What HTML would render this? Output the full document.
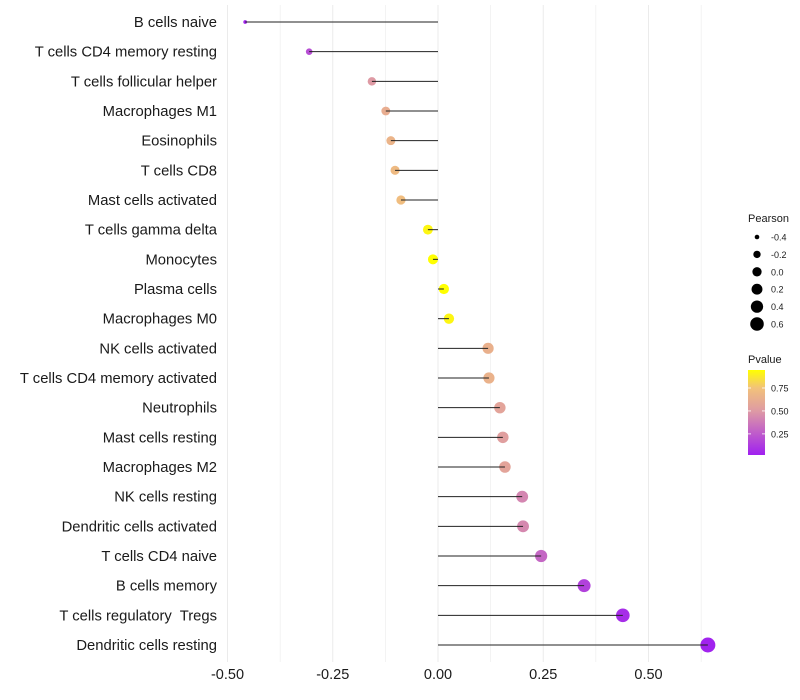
<!DOCTYPE html>
<html><head><meta charset="utf-8">
<style>
body{margin:0;background:#fff;font-family:"Liberation Sans",sans-serif;}
svg{display:block}
</style></head><body>
<svg id="chart" width="800" height="700"></svg>
<script>
const categories=["B cells naive","T cells CD4 memory resting","T cells follicular helper","Macrophages M1","Eosinophils","T cells CD8","Mast cells activated","T cells gamma delta","Monocytes","Plasma cells","Macrophages M0","NK cells activated","T cells CD4 memory activated","Neutrophils","Mast cells resting","Macrophages M2","NK cells resting","Dendritic cells activated","T cells CD4 naive","B cells memory","T cells regulatory\u00a0 Tregs","Dendritic cells resting"];
const pearson=[-0.458,-0.306,-0.157,-0.124,-0.112,-0.102,-0.088,-0.024,-0.012,0.014,0.026,0.119,0.121,0.147,0.154,0.159,0.200,0.202,0.245,0.347,0.439,0.641];
const pvalue=[0.03,0.2,0.5,0.62,0.66,0.7,0.72,0.92,0.95,0.95,0.92,0.64,0.65,0.56,0.53,0.56,0.42,0.43,0.3,0.15,0.07,0.03];
const xTicks=[-0.5,-0.25,0,0.25,0.5];
const xTickLabels=["-0.50","-0.25","0.00","0.25","0.50"];
const sizeLegend=[-0.4,-0.2,0.0,0.2,0.4,0.6];
const sizeLegendLabels=["-0.4","-0.2","0.0","0.2","0.4","0.6"];
const colorTicks=[0.25,0.5,0.75];
const colorTickLabels=["0.25","0.50","0.75"];

const NS="http://www.w3.org/2000/svg";
const svg=document.getElementById('chart');
function el(t,a,p){const e=document.createElementNS(NS,t);for(const k in a)e.setAttribute(k,a[k]);(p||svg).appendChild(e);return e;}
const x=v=>438+v*421;
const y=i=>22+i*(623/21);
const rad=v=>Math.sqrt(Math.max(1,3.5+(v+0.458)*48));
const stops=[[0.02,[160,32,240]],[0.5,[222,154,164]],[0.75,[242,194,122]],[0.95,[255,255,0]]];
function col(p){
  if(p<=stops[0][0])return `rgb(${stops[0][1]})`;
  for(let i=1;i<stops.length;i++){if(p<=stops[i][0]){const a=stops[i-1],b=stops[i],t=(p-a[0])/(b[0]-a[0]);return `rgb(${a[1].map((c,k)=>Math.round(c+(b[1][k]-c)*t))})`;}}
  return `rgb(${stops[stops.length-1][1]})`;
}
for(let v=-0.5;v<=0.63;v+=0.125){
  const g=el('line',{x1:x(v),x2:x(v),y1:5,y2:662,stroke:'#ebebeb','stroke-width':Math.abs((v/0.25)%1)<1e-6?1:0.6});
  
  
}
xTicks.forEach((v,i)=>{
  const t=el('text',{x:x(v),y:679,'text-anchor':'middle','font-size':14.5,fill:'#1a1a1a'});
  t.textContent=xTickLabels[i];
  
  
});
categories.forEach((c,i)=>{
  const t=el('text',{x:217,y:y(i)+5,'text-anchor':'end','font-size':14.8,fill:'#1a1a1a'});
  t.textContent=c;
  
  
  const d=el('circle',{cx:x(pearson[i]),cy:y(i),r:rad(pearson[i]),fill:col(pvalue[i])});
  
  
  const s=el('line',{x1:x(0),x2:x(pearson[i]),y1:y(i),y2:y(i),stroke:'#222','stroke-width':1});
  
  
});
let lt=el('text',{x:748,y:222,'font-size':11,fill:'#1a1a1a'});lt.textContent='Pearson';


sizeLegend.forEach((v,i)=>{
  const cy=237+i*17.4;
  const c=el('circle',{cx:757,cy:cy,r:rad(v)*0.92,fill:'#000'});
  
  
  const t=el('text',{x:771,y:cy+3.5,'font-size':9,fill:'#1a1a1a'});t.textContent=sizeLegendLabels[i];
  
  
});
lt=el('text',{x:748,y:363,'font-size':11,fill:'#1a1a1a'});lt.textContent='Pvalue';


const defs=el('defs',{});
const lg=el('linearGradient',{id:'pg',x1:0,y1:1,x2:0,y2:0},defs);
stops.forEach(s=>el('stop',{offset:(s[0]-0.02)/0.926,'stop-color':`rgb(${s[1]})`},lg));
const bar=el('rect',{x:748,y:370,width:17,height:85,fill:'url(#pg)'});


const cy=v=>455-(v-0.02)/0.926*85;
colorTicks.forEach((v,i)=>{
  el('line',{x1:748,x2:751,y1:cy(v),y2:cy(v),stroke:'#fff','stroke-width':0.8});
  el('line',{x1:762,x2:765,y1:cy(v),y2:cy(v),stroke:'#fff','stroke-width':0.8});
  const t=el('text',{x:771,y:cy(v)+3.5,'font-size':9,fill:'#1a1a1a'});t.textContent=colorTickLabels[i];
  
  
});
</script>
</body></html>
